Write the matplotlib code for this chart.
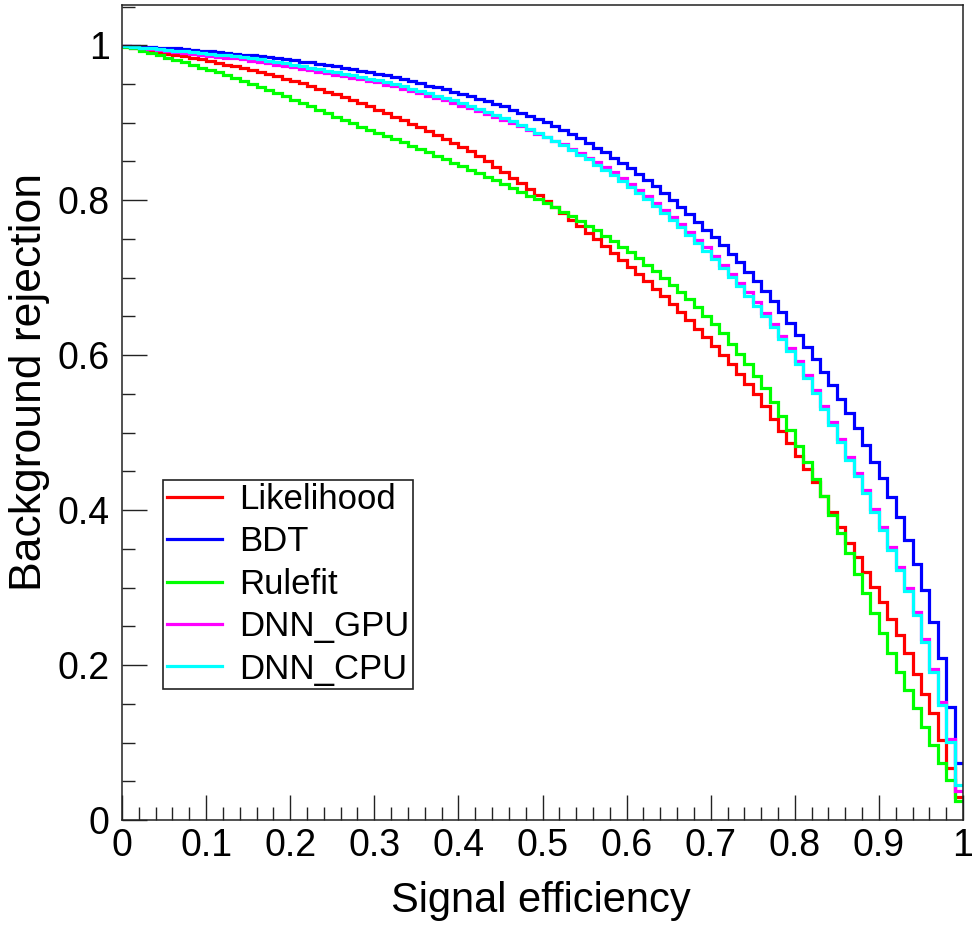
import numpy as np
import matplotlib.pyplot as plt

plt.rcParams['font.family'] = ['Liberation Sans', 'DejaVu Sans']

# ROC curves, 100 bins of signal efficiency
names = ['Likelihood', 'BDT', 'Rulefit', 'DNN_GPU', 'DNN_CPU']
colours = ['#ff0000', '#0000ff', '#00ff00', '#ff00ff', '#00ffff']

likelihood = [
    0.999, 0.997, 0.995, 0.993, 0.991, 0.989, 0.988, 0.986, 0.984, 0.982,
    0.980, 0.977, 0.975, 0.973, 0.971, 0.968, 0.966, 0.963, 0.960, 0.957,
    0.954, 0.951, 0.948, 0.944, 0.940, 0.937, 0.933, 0.929, 0.925, 0.921,
    0.917, 0.913, 0.908, 0.903, 0.899, 0.894, 0.889, 0.884, 0.879, 0.874,
    0.869, 0.863, 0.857, 0.850, 0.843, 0.836, 0.829, 0.822, 0.814, 0.807,
    0.799, 0.791, 0.783, 0.775, 0.767, 0.758, 0.750, 0.741, 0.732, 0.723,
    0.714, 0.705, 0.696, 0.686, 0.676, 0.666, 0.656, 0.645, 0.634, 0.623,
    0.612, 0.600, 0.588, 0.576, 0.563, 0.550, 0.534, 0.518, 0.502, 0.486,
    0.470, 0.453, 0.436, 0.418, 0.398, 0.378, 0.357, 0.340, 0.320, 0.301,
    0.282, 0.260, 0.239, 0.215, 0.189, 0.163, 0.138, 0.103, 0.067, 0.030]

bdt = [
    0.999, 0.999, 0.998, 0.998, 0.997, 0.996, 0.996, 0.995, 0.994, 0.993,
    0.992, 0.991, 0.990, 0.989, 0.988, 0.987, 0.986, 0.985, 0.984, 0.982,
    0.981, 0.979, 0.978, 0.976, 0.975, 0.973, 0.971, 0.969, 0.967, 0.965,
    0.963, 0.961, 0.959, 0.956, 0.954, 0.951, 0.948, 0.946, 0.943, 0.940,
    0.937, 0.934, 0.931, 0.928, 0.924, 0.921, 0.917, 0.913, 0.909, 0.905,
    0.901, 0.896, 0.891, 0.886, 0.880, 0.874, 0.868, 0.862, 0.855, 0.848,
    0.841, 0.834, 0.826, 0.818, 0.809, 0.800, 0.791, 0.782, 0.772, 0.762,
    0.752, 0.742, 0.731, 0.720, 0.708, 0.696, 0.683, 0.670, 0.656, 0.641,
    0.626, 0.611, 0.595, 0.578, 0.561, 0.544, 0.525, 0.506, 0.484, 0.462,
    0.441, 0.417, 0.391, 0.361, 0.331, 0.297, 0.256, 0.209, 0.146, 0.073]

rulefit = [
    0.998, 0.996, 0.993, 0.990, 0.987, 0.984, 0.981, 0.978, 0.975, 0.971,
    0.968, 0.965, 0.962, 0.958, 0.954, 0.950, 0.946, 0.942, 0.938, 0.934,
    0.929, 0.925, 0.921, 0.917, 0.912, 0.908, 0.904, 0.900, 0.895, 0.891,
    0.887, 0.883, 0.879, 0.875, 0.870, 0.866, 0.862, 0.857, 0.853, 0.848,
    0.844, 0.839, 0.835, 0.830, 0.826, 0.821, 0.816, 0.811, 0.806, 0.801,
    0.796, 0.791, 0.785, 0.779, 0.773, 0.767, 0.761, 0.754, 0.747, 0.740,
    0.733, 0.725, 0.717, 0.709, 0.700, 0.691, 0.682, 0.672, 0.662, 0.651,
    0.640, 0.628, 0.615, 0.602, 0.588, 0.573, 0.557, 0.540, 0.522, 0.503,
    0.483, 0.462, 0.440, 0.418, 0.394, 0.370, 0.344, 0.318, 0.293, 0.267,
    0.241, 0.215, 0.191, 0.168, 0.144, 0.120, 0.097, 0.073, 0.052, 0.024]

dnn_gpu = [
    0.999, 0.998, 0.997, 0.995, 0.994, 0.992, 0.991, 0.990, 0.989, 0.987,
    0.986, 0.985, 0.984, 0.983, 0.982, 0.980, 0.978, 0.977, 0.975, 0.973,
    0.972, 0.970, 0.968, 0.966, 0.964, 0.962, 0.960, 0.958, 0.956, 0.954,
    0.952, 0.949, 0.947, 0.944, 0.941, 0.938, 0.935, 0.932, 0.929, 0.926,
    0.922, 0.919, 0.915, 0.911, 0.907, 0.904, 0.900, 0.896, 0.891, 0.886,
    0.882, 0.877, 0.872, 0.866, 0.861, 0.855, 0.849, 0.843, 0.836, 0.829,
    0.821, 0.813, 0.805, 0.796, 0.787, 0.778, 0.769, 0.759, 0.749, 0.739,
    0.728, 0.717, 0.705, 0.693, 0.681, 0.668, 0.654, 0.640, 0.625, 0.609,
    0.593, 0.575, 0.555, 0.535, 0.514, 0.492, 0.469, 0.448, 0.426, 0.402,
    0.378, 0.352, 0.327, 0.299, 0.269, 0.234, 0.195, 0.152, 0.104, 0.037]

dnn_cpu = [
    0.999, 0.998, 0.997, 0.996, 0.995, 0.994, 0.993, 0.992, 0.991, 0.990,
    0.989, 0.988, 0.987, 0.986, 0.985, 0.983, 0.982, 0.980, 0.979, 0.977,
    0.975, 0.973, 0.971, 0.969, 0.967, 0.965, 0.963, 0.961, 0.959, 0.957,
    0.955, 0.952, 0.950, 0.947, 0.944, 0.941, 0.938, 0.935, 0.932, 0.929,
    0.925, 0.922, 0.918, 0.914, 0.910, 0.906, 0.902, 0.897, 0.892, 0.887,
    0.882, 0.877, 0.871, 0.865, 0.859, 0.853, 0.846, 0.839, 0.832, 0.825,
    0.817, 0.809, 0.801, 0.792, 0.783, 0.774, 0.765, 0.755, 0.745, 0.735,
    0.724, 0.713, 0.701, 0.689, 0.677, 0.664, 0.650, 0.636, 0.621, 0.605,
    0.589, 0.571, 0.551, 0.531, 0.510, 0.488, 0.465, 0.444, 0.422, 0.398,
    0.374, 0.348, 0.323, 0.295, 0.265, 0.230, 0.191, 0.148, 0.101, 0.045]

xtick_labels = ['0', '0.1', '0.2', '0.3', '0.4', '0.5', '0.6', '0.7', '0.8', '0.9', '1']
ytick_labels = ['0', '0.2', '0.4', '0.6', '0.8', '1']

curves = [likelihood, bdt, rulefit, dnn_gpu, dnn_cpu]
edges = np.linspace(0, 1, len(likelihood) + 1)

fig = plt.figure(figsize=(9.74, 9.26), dpi=100)
ax = fig.add_axes([122 / 974, 1 - 820 / 926, 841 / 974, 815 / 926])

for vals, name, col in zip(curves, names, colours):
    ax.stairs(vals, edges, baseline=None, color=col, lw=2.3, label=name)

ax.set_xlim(0, 1)
ax.set_ylim(0, 1.052)

ax.set_xticks(np.linspace(0, 1, len(xtick_labels)))
ax.set_xticklabels(xtick_labels)
ax.set_xticks(np.arange(0, 1.0001, 0.02), minor=True)
ax.set_yticks(np.linspace(0, 1, len(ytick_labels)))
ax.set_yticklabels(ytick_labels)
ax.set_yticks(np.arange(0, 1.0501, 0.05), minor=True)

ax.tick_params(which='both', direction='in', top=False, right=False, width=1.0, color='#222222')
ax.tick_params(which='major', length=18, labelsize=27)
ax.tick_params(which='minor', length=9.5)
ax.tick_params(axis='x', which='major', pad=6)
ax.tick_params(axis='y', which='major', pad=9)
for sp in ax.spines.values():
    sp.set_linewidth(1.1)
    sp.set_color('#222222')

ax.set_xlabel('Signal efficiency', fontsize=30)
ax.xaxis.set_label_coords(0.498, -0.075)
ax.set_ylabel('Background rejection', fontsize=32)
ax.yaxis.set_label_coords(-0.086, 0.537)

leg = ax.legend(loc='lower left', bbox_to_anchor=(0.0488, 0.1607), borderaxespad=0,
                fontsize=25, handlelength=1.6, handletextpad=0.5, labelspacing=0.27,
                borderpad=0.1, fancybox=False, framealpha=1, edgecolor='#222222')
leg.get_frame().set_linewidth(1.2)
for line in leg.get_lines():
    line.set_linewidth(2.3)

fig.savefig('out.png', dpi=100)
